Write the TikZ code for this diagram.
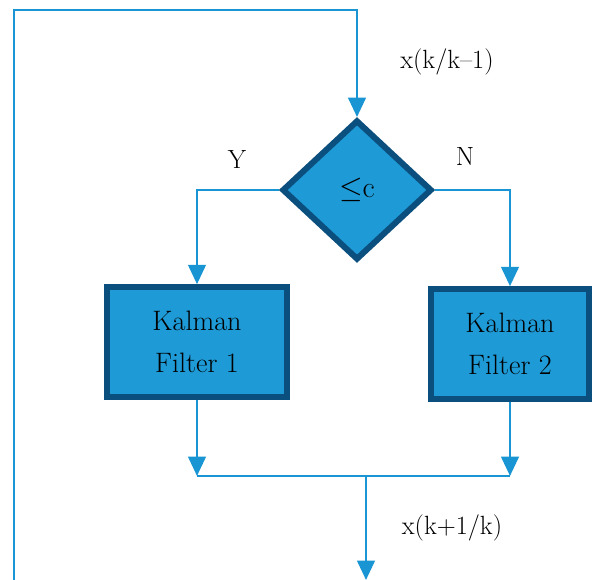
\documentclass[tikz,border=0pt]{standalone}
\usepackage{amsmath,amssymb}
\usepackage{xcolor}
\usetikzlibrary{arrows.meta,calc,positioning,shapes.geometric}

\definecolor{kfblue}{HTML}{1E9AD6}
\definecolor{kfedge}{HTML}{0B4F7E}
\definecolor{kfline}{HTML}{1A95D3}

\tikzset{
  kfbox/.style={draw=kfedge,fill=kfblue,line width=3.2pt,align=center,
    minimum width=3.6cm,minimum height=2.2cm,inner sep=0pt,
    font=\fontsize{16}{24}\selectfont},
  decbox/.style={diamond,draw=kfedge,fill=kfblue,line width=3.4pt,
    minimum width=3cm,minimum height=2.8cm,inner sep=0pt,
    font=\fontsize{17}{20}\selectfont},
  flow/.style={draw=kfline,line width=1.4pt,-{Triangle[width=10pt,length=11pt]}},
  wire/.style={draw=kfline,line width=1.4pt},
  lbl/.style={font=\fontsize{15}{18}\selectfont}
}

\begin{document}
\begin{tikzpicture}[x=0.02cm,y=-0.02cm]
    \useasboundingbox (0,0) rectangle (595,580);
    % blocks
    \node[decbox] (dec) at (357,190) {$\leq$c};
    \node[kfbox] (kf1) at (197,342) {Kalman\\Filter 1};
    \node[kfbox,minimum width=3.15cm] (kf2) at (510,344) {Kalman\\Filter 2};
    % loop and junctions
    \coordinate (loopin) at (14,580);
    \coordinate (topL) at (14,10);
    \coordinate (jn) at (366,476);
    \coordinate (out) at (366,580);
    \draw[flow] (loopin) -- (topL) -| (dec.north);
    \draw[flow] (dec.west) -| (kf1.north);
    \draw[flow] (dec.east) -| (kf2.north);
    \draw[flow] (kf1.south) -- (kf1.south |- jn);
    \draw[flow] (kf2.south) -- (kf2.south |- jn);
    \draw[wire] (kf1.south |- jn) -- (kf2.south |- jn);
    \draw[flow] (jn) -- (out);
    % labels
    \node[lbl] (yes) at (237,160) {Y};
    \node[lbl] (no) at (465,157) {N};
    \node[lbl] (xin) at (447,62) {x(k/k--1)};
    \node[lbl] (xout) at (452,528) {x(k+1/k)};
\end{tikzpicture}
\end{document}
